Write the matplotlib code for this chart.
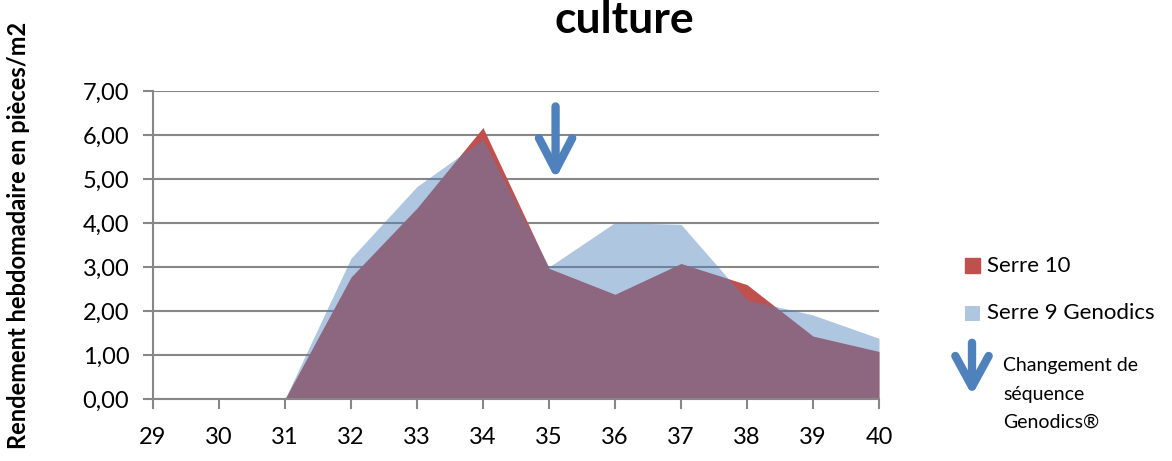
import numpy as np
import matplotlib.pyplot as plt
from matplotlib.patches import Rectangle, FancyArrowPatch

weeks = [29, 30, 31, 32, 33, 34, 35, 36, 37, 38, 39, 40]
serre10 = [np.nan, np.nan, 0.0, 2.77, 4.34, 6.17, 2.97, 2.38, 3.08, 2.60, 1.43, 1.08]
serre9 = [np.nan, np.nan, 0.0, 3.20, 4.83, 5.90, 3.00, 4.01, 3.97, 2.25, 1.91, 1.38]
yticks = [0, 1, 2, 3, 4, 5, 6, 7]

red = "#C0504D"
blue = "#4F81BD"
grey = "#878787"

plt.rcParams['font.family'] = ['Lato', 'DejaVu Sans']

fig = plt.figure(figsize=(11.72, 4.61), dpi=100)
ax = fig.add_axes([0.1305, 0.1345, 0.6195, 0.668])

x = np.array(weeks, dtype=float)
ax.fill_between(x, 0, serre10, color=red, linewidth=0, zorder=2)
ax.fill_between(x, 0, serre9, color=blue, alpha=0.45, linewidth=0, zorder=3)

ax.set_xlim(29, 40)
ax.set_ylim(0, 7)
ax.set_xticks(weeks)
ax.set_yticks(yticks)
ax.set_yticklabels([("%.2f" % v).replace(".", ",") for v in yticks])
ax.grid(axis="y", color=grey, linewidth=1.5, zorder=1)
ax.set_axisbelow(True)
for s in ["top", "right"]:
    ax.spines[s].set_visible(False)
for s in ["left", "bottom"]:
    ax.spines[s].set_color(grey)
    ax.spines[s].set_linewidth(1.5)
    ax.spines[s].set_zorder(4)
ax.tick_params(axis="both", colors=grey, labelcolor="black", labelsize=17,
               length=7, width=1.5)
ax.tick_params(axis="x", pad=13)
ax.tick_params(axis="y", pad=10)

# flèche changement de séquence
ax.annotate("", xy=(35.1, 5.0), xytext=(35.1, 6.65),
            arrowprops=dict(arrowstyle="->,head_length=2.3,head_width=1.2",
                            color=blue, lw=6, capstyle="round",
                            joinstyle="round", shrinkA=0, shrinkB=0),
            zorder=5)

fig.text(0.533, 0.928, "culture", ha="center", va="baseline",
         fontsize=32, fontweight="bold")
fig.text(0.016, 0.49, "Rendement hebdomadaire en pièces/m2", rotation=90,
         ha="center", va="center", fontsize=17, fontweight="bold")

# legende
W, H = 1172.0, 461.0
fig.add_artist(Rectangle((965 / W, 1 - 273 / H), 15 / W, 15 / H,
                         transform=fig.transFigure, color=red))
fig.text(987 / W, 1 - 266 / H, "Serre 10", fontsize=16, va="center")
fig.add_artist(Rectangle((965 / W, 1 - 321 / H), 15 / W, 15 / H,
                         transform=fig.transFigure, color=blue, alpha=0.45, lw=0))
fig.text(987 / W, 1 - 313 / H, "Serre 9 Genodics", fontsize=16, va="center")
fig.add_artist(FancyArrowPatch((972 / W, 1 - 340 / H), (972 / W, 1 - 398 / H),
                               transform=fig.transFigure,
                               arrowstyle="->,head_length=2.2,head_width=1.2",
                               color=blue, lw=6, capstyle="round",
                               joinstyle="round", mutation_scale=10))
fig.text(1003 / W, 1 - 365 / H, "Changement de", fontsize=14, va="center")
fig.text(1003 / W, 1 - 394 / H, "séquence", fontsize=14, va="center")
fig.text(1003 / W, 1 - 422 / H, "Genodics®", fontsize=14, va="center")

fig.savefig("out.png", dpi=100)
